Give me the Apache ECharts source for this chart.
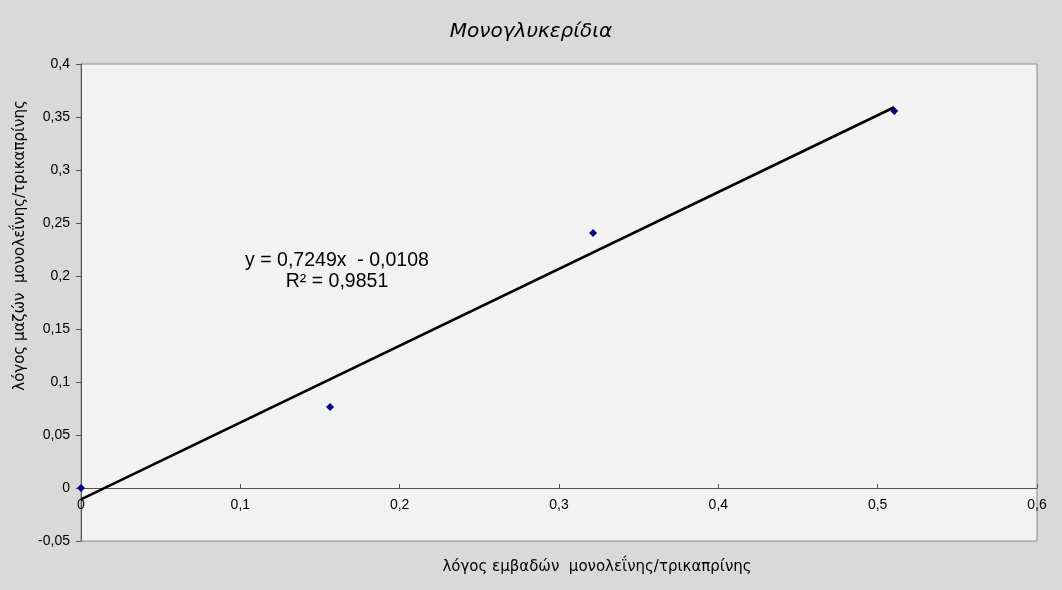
<!DOCTYPE html>
<html>
<head>
<meta charset="utf-8">
<script src="https://cdn.jsdelivr.net/npm/echarts@6/dist/echarts.min.js"></script>
<style>html,body{margin:0;padding:0;background:#d9d9d9;}#c{width:1062px;height:590px;}</style>
</head>
<body>
<div id="c"></div>
<script>
var titleText = 'Μονογλυκερίδια';
var xName = 'λόγος εμβαδών  μονολεΐνης/τρικαπρίνης';
var yName = 'λόγος μαζών  μονολεΐνης/τρικαπρίνης';
var xValues = [0, 0.1563, 0.3214, 0.5104];
var yValues = [0, 0.0764, 0.2406, 0.3557];
var trendSlope = 0.7249;
var trendIntercept = -0.0108;
var trendRange = [0, 0.5104];
var eqLines = ['y = 0,7249x  - 0,0108', 'R² = 0,9851'];

var points = xValues.map(function(x, i){ return [x, yValues[i]]; });
var trend = trendRange.map(function(x){ return [x, trendSlope * x + trendIntercept]; });
function fmt(v){ return String(+v.toFixed(2)).replace('.', ','); }

var chart = echarts.init(document.getElementById('c'));
var font = 'Liberation Sans, Arial, sans-serif';
var font2 = 'DejaVu Sans, sans-serif';
chart.setOption({
  backgroundColor: '#d9d9d9',
  animation: false,
  title: {
    text: titleText, left: 'center', top: 17,
    textStyle: { fontFamily: font2, fontStyle: 'italic', fontWeight: 'normal', fontSize: 20, color: '#000' }
  },
  grid: {
    left: 81, right: 25, top: 64, bottom: 49,
    outerBoundsMode: 'none', containLabel: false,
    show: true, backgroundColor: '#f2f2f2', borderColor: '#8c8c8c', borderWidth: 1
  },
  xAxis: {
    type: 'value', min: 0, max: 0.6, interval: 0.1,
    offset: -53,
    name: xName, nameLocation: 'middle', nameGap: 72, nameMoveOverlap: false,
    nameTextStyle: { fontFamily: font2, fontSize: 15, color: '#000', padding: [0, 0, 0, 76] },
    axisLine: { onZero: false, lineStyle: { color: '#555', width: 1 } },
    axisTick: { show: true, length: 4, inside: true, lineStyle: { color: '#555' } },
    axisLabel: { fontFamily: font, fontSize: 14, color: '#000', formatter: fmt, margin: 10 },
    splitLine: { show: false }
  },
  yAxis: {
    type: 'value', min: -0.05, max: 0.4, interval: 0.05,
    name: yName, nameLocation: 'middle', nameGap: 53, nameMoveOverlap: false,
    nameTextStyle: { fontFamily: font2, fontSize: 15, color: '#000', padding: [0, 0, 0, 114] },
    axisLine: { show: true, onZero: false, lineStyle: { color: '#555', width: 1 } },
    axisTick: { show: true, length: 5, lineStyle: { color: '#555' } },
    axisLabel: { fontFamily: font, fontSize: 14, color: '#000', formatter: fmt, margin: 11 },
    splitLine: { show: false }
  },
  series: [
    {
      type: 'line', data: trend, symbol: 'none', silent: true,
      lineStyle: { color: '#000', width: 2.6 }
    },
    {
      type: 'scatter', data: points, symbol: 'diamond', symbolSize: 8,
      itemStyle: { color: '#000080', opacity: 1 }
    }
  ],
  graphic: [{
    type: 'text', x: 337, y: 250,
    style: {
      text: eqLines.join('\n'), align: 'center', textAlign: 'center',
      fontFamily: font, fontSize: 19.5, lineHeight: 21, fill: '#000'
    }
  }]
});
</script>
</body>
</html>
